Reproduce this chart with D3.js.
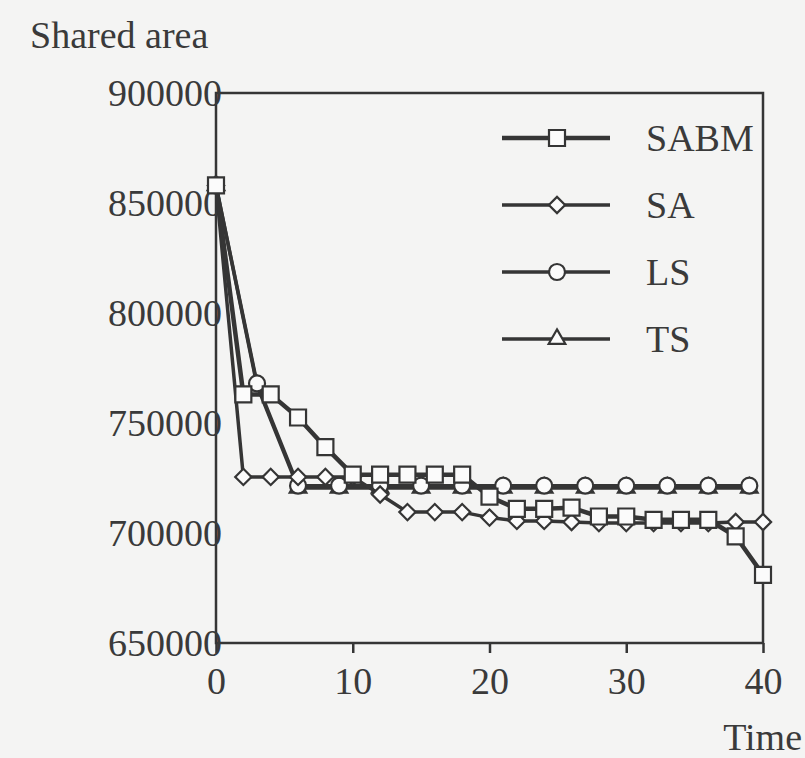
<!DOCTYPE html>
<html>
<head>
<meta charset="utf-8">
<script src="https://cdn.jsdelivr.net/npm/d3@7.9.0/dist/d3.min.js"></script>
<style>
  html, body { margin: 0; padding: 0; background: #f4f4f3; }
  svg text { font-family: "Liberation Serif", "Times New Roman", serif; fill: #3a3a3a; }
</style>
</head>
<body>
<svg id="chart" width="805" height="758"></svg>
<script>
// data
const sabmX = [0, 2, 4, 6, 8, 10, 12, 14, 16, 18, 20, 22, 24, 26, 28, 30, 32, 34, 36, 38, 40];
const sabmY = [858000, 763000, 763000, 752500, 739000, 726500, 726500, 726500, 726500, 726500,
               716500, 711000, 711000, 711500, 707500, 707500, 706000, 706000, 706000, 698500, 681000];

const saX = [0, 2, 4, 6, 8, 10, 12, 14, 16, 18, 20, 22, 24, 26, 28, 30, 32, 34, 36, 38, 40];
const saY = [858000, 725500, 725500, 725500, 725500, 725500, 717500, 709500, 709500, 709500,
             707000, 705500, 705500, 705000, 704500, 704500, 704500, 704500, 704500, 705000, 705000];

const lsX = [0, 3, 6, 9, 12, 15, 18, 21, 24, 27, 30, 33, 36, 39];
const lsY = [858000, 768000, 721500, 721500, 721500, 721500, 721500, 721500, 721500, 721500,
             721500, 721500, 721500, 721500];

const tsX = [0, 3, 6, 9, 12, 15, 18, 21, 24, 27, 30, 33, 36, 39];
const tsY = [858000, 767000, 720500, 720500, 720500, 720500, 720500, 720500, 720500, 720500,
             720500, 720500, 720500, 720500];

const xTicks = [0, 10, 20, 30, 40];
const yTicks = [650000, 700000, 750000, 800000, 850000, 900000];
const seriesNames = ['SABM', 'SA', 'LS', 'TS'];

const ink = '#353535';
const svg = d3.select('#chart');

const x = d3.scaleLinear().domain([0, 40]).range([216, 763]);
const y = d3.scaleLinear().domain([650000, 900000]).range([643, 93]);

// frame
svg.append('rect')
  .attr('x', x(0)).attr('y', y(900000))
  .attr('width', x(40) - x(0)).attr('height', y(650000) - y(900000))
  .attr('fill', 'none').attr('stroke', ink).attr('stroke-width', 2.5);

// x axis
const xAxis = svg.append('g')
  .attr('transform', `translate(0,${y(650000)})`)
  .call(d3.axisBottom(x).tickValues(xTicks).tickSize(10).tickPadding(14).tickFormat(d3.format('d')));
xAxis.select('.domain').remove();
xAxis.selectAll('line').attr('stroke', ink).attr('stroke-width', 2.5);
xAxis.selectAll('text').attr('font-size', 38).attr('font-family', '"Liberation Serif", serif').attr('fill', '#3a3a3a');

// y axis: labels run into the axis line, as in the figure
const yAxis = svg.append('g')
  .attr('transform', `translate(${x(0)},0)`)
  .call(d3.axisLeft(y).tickValues(yTicks).tickSize(0).tickPadding(-6).tickFormat(d3.format('d')));
yAxis.select('.domain').remove();
yAxis.selectAll('text').attr('font-size', 38).attr('font-family', '"Liberation Serif", serif').attr('fill', '#3a3a3a');

// axis titles
svg.append('text').attr('x', 30).attr('y', 48).attr('font-size', 38).text('Shared area');
svg.append('text').attr('x', 802).attr('y', 750).attr('text-anchor', 'end').attr('font-size', 38).text('Time');

// markers
const markers = {
  SABM: d3.symbol().type(d3.symbolSquare).size(16 * 16),
  SA: d3.symbol().type(d3.symbolSquare).size(11.5 * 11.5),
  LS: d3.symbol().type(d3.symbolCircle).size(Math.PI * 8 * 8),
  TS: d3.symbol().type(d3.symbolTriangle).size(120)
};
const rotate = { SABM: 0, SA: 45, LS: 0, TS: 0 };
const widths = { SABM: 4.5, SA: 3.5, LS: 3.5, TS: 3.5 };

const data = {
  SABM: sabmX.map((v, i) => [v, sabmY[i]]),
  SA: saX.map((v, i) => [v, saY[i]]),
  LS: lsX.map((v, i) => [v, lsY[i]]),
  TS: tsX.map((v, i) => [v, tsY[i]])
};

const line = d3.line().x(d => x(d[0])).y(d => y(d[1]));
const drawOrder = ['TS', 'LS', 'SA', 'SABM'];

drawOrder.forEach(name => {
  const g = svg.append('g');
  g.append('path')
    .attr('d', line(data[name]))
    .attr('fill', 'none').attr('stroke', ink).attr('stroke-width', widths[name])
    .attr('stroke-linejoin', 'round');
  g.selectAll('path.mark')
    .data(data[name])
    .enter()
    .append('path')
    .attr('class', 'mark')
    .attr('d', markers[name])
    .attr('transform', d => `translate(${x(d[0])},${y(d[1])}) rotate(${rotate[name]})`)
    .attr('fill', '#fbfbfb').attr('stroke', ink).attr('stroke-width', 2.2);
});

// legend
const legend = svg.append('g');
seriesNames.forEach((name, i) => {
  const ly = 138 + i * 67;
  legend.append('line')
    .attr('x1', 502).attr('x2', 610).attr('y1', ly).attr('y2', ly)
    .attr('stroke', ink).attr('stroke-width', widths[name]);
  legend.append('path')
    .attr('d', markers[name])
    .attr('transform', `translate(557,${ly}) rotate(${rotate[name]})`)
    .attr('fill', '#fbfbfb').attr('stroke', ink).attr('stroke-width', 2.2);
  legend.append('text')
    .attr('x', 646).attr('y', ly + 13)
    .attr('font-size', 38)
    .text(name);
});
</script>
</body>
</html>
